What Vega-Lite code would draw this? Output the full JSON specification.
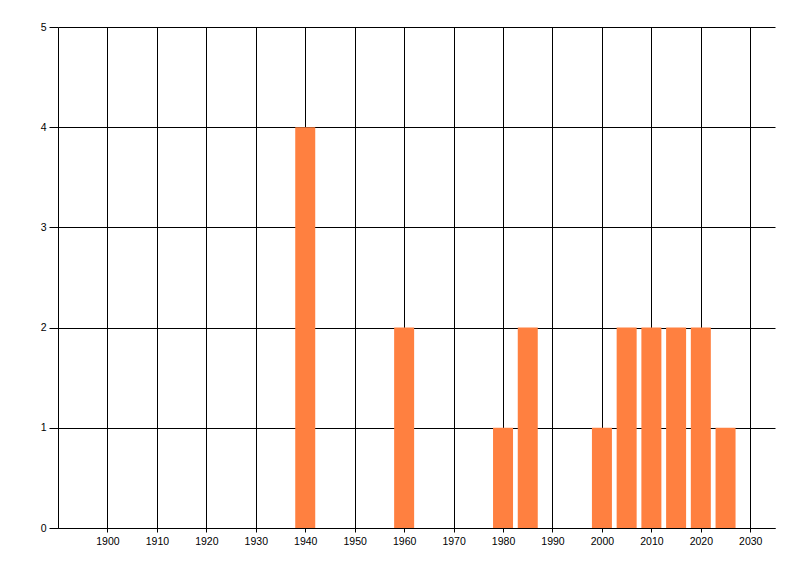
{
  "$schema": "https://vega.github.io/schema/vega-lite/v6.json",
  "width": 717,
  "height": 501,
  "autosize": {"type": "none"},
  "padding": {"left": 58, "top": 27, "right": 25, "bottom": 48},
  "background": "white",
  "config": {
    "view": {"stroke": null},
    "axis": {
      "labelFont": "Liberation Sans",
      "labelFontSize": 10.5,
      "labelColor": "black",
      "domainColor": "black",
      "domainWidth": 1,
      "tickColor": "black",
      "tickWidth": 1,
      "gridColor": "black",
      "gridWidth": 1,
      "gridOpacity": 1,
      "title": null
    }
  },
  "data": {
    "values": [
      {"year": 1940, "count": 4},
      {"year": 1960, "count": 2},
      {"year": 1980, "count": 1},
      {"year": 1985, "count": 2},
      {"year": 2000, "count": 1},
      {"year": 2005, "count": 2},
      {"year": 2010, "count": 2},
      {"year": 2015, "count": 2},
      {"year": 2020, "count": 2},
      {"year": 2025, "count": 1}
    ]
  },
  "mark": {"type": "bar", "width": 20, "color": "#FF8040"},
  "encoding": {
    "x": {
      "field": "year",
      "type": "quantitative",
      "scale": {"domain": [1890, 2035], "nice": false, "zero": false, "padding": 0},
      "axis": {
        "values": [1900, 1910, 1920, 1930, 1940, 1950, 1960, 1970, 1980, 1990, 2000, 2010, 2020, 2030],
        "format": "d",
        "tickSize": 4,
        "labelPadding": 4,
        "grid": true,
        "labelFlush": false
      }
    },
    "y": {
      "field": "count",
      "type": "quantitative",
      "scale": {"domain": [0, 5], "nice": false},
      "axis": {
        "values": [0, 1, 2, 3, 4, 5],
        "format": "d",
        "tickSize": 9,
        "labelPadding": 3,
        "grid": true,
        "labelFlush": false
      }
    }
  }
}
